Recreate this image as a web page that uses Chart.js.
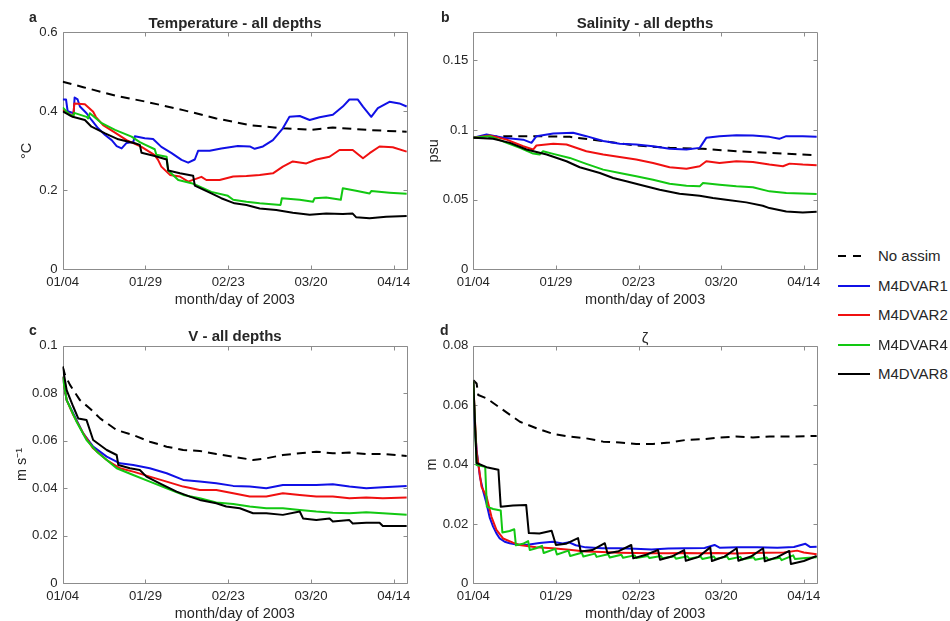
<!DOCTYPE html>
<html>
<head>
<meta charset="utf-8">
<title>Assimilation error - all depths</title>
<script src="https://cdn.jsdelivr.net/npm/chart.js@4.4.1/dist/chart.umd.min.js"></script>
<style>
  html, body { margin: 0; padding: 0; background: #fff; }
  #fig {
    position: relative; width: 950px; height: 621px; overflow: hidden;
    font-family: "Liberation Sans", Arial, Helvetica, sans-serif; color: #262626;
  }
  #fig canvas { position: absolute; }
  .ttl { position: absolute; font-size: 15px; font-weight: bold; white-space: nowrap; transform: translate(-50%, -50%); }
  .ttl.plain { font-weight: normal; }
  .tag { position: absolute; font-size: 14px; font-weight: bold; transform: translateY(-50%); }
  .leg { position: absolute; left: 838px; height: 18px; font-size: 15px; line-height: 18px; transform: translateY(-50%); white-space: nowrap; }
  .leg .swatch { position: absolute; left: 0; top: 8px; width: 32px; height: 2px; }
  .leg .swatch.dash { width: 23px; background: repeating-linear-gradient(to right, #000 0 8px, transparent 8px 15px) !important; }
  .leg .name { position: absolute; left: 40px; top: 0; }
</style>
</head>
<body>
<div id="fig">
  <canvas id="pa"></canvas>
  <canvas id="pb"></canvas>
  <canvas id="pc"></canvas>
  <canvas id="pd"></canvas>

  <div class="tag" style="left:29px; top:17px">a</div>
  <div class="tag" style="left:441px; top:17px">b</div>
  <div class="tag" style="left:29px; top:330px">c</div>
  <div class="tag" style="left:440px; top:330px">d</div>

  <div class="ttl" style="left:235px; top:22px">Temperature - all depths</div>
  <div class="ttl" style="left:645px; top:22px">Salinity - all depths</div>
  <div class="ttl" style="left:235px; top:335px">V - all depths</div>
  <div class="ttl plain" style="left:645px; top:337px">ζ</div>

  <div id="legend"></div>
</div>

<script>
// ---------- shared axis data ----------
const dayTicks = [0, 25, 50, 75, 100];
const dayLabels = ['01/04', '01/29', '02/23', '03/20', '04/14'];
const lastDay = 104;
const xTitle = 'month/day of 2003';

const seriesNames = ['No assim', 'M4DVAR1', 'M4DVAR2', 'M4DVAR4', 'M4DVAR8'];
const seriesColors = ['#000000', '#1010e6', '#f01010', '#12c812', '#000000'];

// ---------- (a) temperature, [day, value] ----------
const tempTicks = [0, 0.2, 0.4, 0.6];
const tempNoAssim = [[0,.475],[6.2,.461],[16.3,.439],[25.3,.424],[36.4,.403],[46.4,.382],[56.5,.365],[66.5,.357],[75.1,.353],[81.6,.359],[91.7,.353],[103.9,.348]];
const tempM1 = [[0,.43],[1,.43],[1.5,.40],[3.3,.395],[3.6,.435],[4.5,.43],[5.2,.412],[7.2,.395],[8.7,.378],[10.7,.357],[12.8,.34],[14.8,.327],[16.3,.312],[17.8,.306],[19.3,.32],[21.3,.322],[21.8,.337],[24.8,.332],[27.3,.33],[29.8,.31],[32.9,.294],[35.9,.277],[37.9,.27],[39.9,.278],[40.9,.30],[44.4,.30],[47.9,.306],[52.9,.312],[56.5,.311],[58,.305],[60.5,.311],[63.5,.327],[66.5,.357],[68.5,.386],[71.6,.388],[74.6,.378],[77.6,.385],[81.6,.391],[84.6,.412],[86.6,.43],[89.1,.43],[90.7,.412],[93.2,.386],[95.2,.408],[98.7,.424],[101.7,.42],[103.9,.412]];
const tempM2 = [[0,.405],[1.8,.395],[3.2,.386],[3.5,.42],[6.7,.418],[9.2,.399],[10,.386],[12.2,.365],[15.8,.346],[19.3,.327],[23.8,.31],[27.8,.289],[28.8,.277],[29.8,.26],[32.4,.239],[35.4,.235],[37.9,.222],[41.9,.234],[43.4,.226],[47.4,.226],[51.5,.235],[55.5,.236],[59.5,.239],[63.5,.243],[66.5,.26],[69.5,.273],[73.6,.268],[76.6,.278],[80.6,.285],[83.6,.302],[87.6,.302],[90.7,.281],[92.7,.294],[95.7,.311],[99.7,.309],[103.9,.298]];
const tempM4 = [[0,.41],[2.2,.39],[3.3,.39],[3.5,.396],[7.2,.386],[7.7,.382],[8.2,.395],[11.8,.37],[15.8,.353],[20.8,.336],[23.3,.322],[25,.315],[27.8,.304],[28.3,.29],[31.4,.285],[31.8,.251],[34.9,.226],[38.9,.218],[40.4,.213],[44.9,.196],[49.9,.186],[51.5,.176],[55.5,.171],[59.5,.167],[65.8,.163],[66.2,.18],[71.6,.176],[75.6,.171],[76.1,.18],[79.6,.182],[84,.176],[84.6,.205],[88.6,.199],[92.7,.192],[93.2,.198],[98.7,.194],[103.9,.191]];
const tempM8 = [[0,.40],[3,.386],[6.7,.378],[8.7,.361],[12.8,.344],[16.8,.329],[21.8,.319],[23.3,.315],[23.8,.295],[27.8,.287],[31.4,.278],[31.9,.25],[35.4,.243],[39.4,.237],[39.9,.212],[44.9,.192],[47.9,.18],[51.9,.167],[55.5,.163],[59.5,.154],[64.5,.15],[69.5,.143],[74.6,.138],[79.6,.141],[84.6,.14],[87.6,.141],[88.6,.132],[92.7,.129],[97.7,.133],[103.9,.135]];

// ---------- (b) salinity ----------
const saltTicks = [0, 0.05, 0.1, 0.15];
const saltNoAssim = [[0,.0946],[9.1,.0955],[19.1,.0955],[29.2,.095],[39.3,.092],[49.3,.0888],[59.4,.0871],[69.5,.0864],[79.6,.0847],[89.6,.0835],[103.9,.0818]];
const saltM1 = [[0,.0943],[4,.0967],[9.1,.0943],[15.1,.093],[17.6,.0907],[19.1,.0955],[24.2,.0974],[30.2,.098],[34.2,.0955],[39.3,.092],[44.3,.09],[49.3,.0895],[54.4,.0883],[59.4,.0864],[64.5,.086],[68.5,.0871],[70.5,.0943],[74.5,.0955],[79.6,.0962],[84.6,.096],[89.6,.095],[92.6,.0936],[94.7,.0955],[99.7,.0955],[103.9,.095]];
const saltM2 = [[0,.0943],[5,.096],[10.1,.093],[15.1,.0883],[18.1,.0859],[19.1,.0888],[24.2,.09],[28.2,.0895],[34.2,.0847],[39.3,.0823],[44.3,.0806],[49.3,.0787],[54.4,.0763],[59.4,.0732],[64.5,.0722],[68.5,.0739],[70.5,.0775],[74.5,.0763],[79.6,.0775],[84.6,.077],[89.6,.0751],[93.7,.0739],[95.7,.0758],[99.7,.0751],[103.9,.0746]];
const saltM4 = [[0,.0943],[5,.0955],[10.1,.0907],[14.1,.0871],[18.1,.083],[20.1,.0823],[21.1,.0847],[24.2,.0828],[29.2,.0799],[34.2,.0756],[39.3,.0715],[44.3,.0691],[49.3,.0667],[54.4,.0643],[59.4,.0614],[64.5,.06],[68.5,.0595],[69.5,.0619],[74.5,.0607],[79.6,.0595],[84.6,.0588],[89.6,.0559],[94.7,.0547],[103.9,.054]];
const saltM8 = [[0,.0943],[6,.0936],[11.1,.0907],[16.1,.0859],[22.2,.0823],[28.2,.0775],[32.2,.0732],[38.3,.0691],[42.3,.0655],[46.3,.0631],[50.4,.0607],[56.4,.0571],[62.4,.0542],[68.5,.0528],[72.5,.0511],[76.5,.0499],[82.6,.048],[87.6,.0456],[89.6,.0439],[94.7,.0415],[99.7,.0408],[103.9,.0413]];

// ---------- (c) velocity ----------
const velTicks = [0, 0.02, 0.04, 0.06, 0.08, 0.1];
const velNoAssim = [[0,.0912],[0.7,.0877],[2.2,.0835],[5.2,.0771],[8.2,.0736],[11.3,.0694],[16.3,.0645],[21.3,.0624],[26.3,.0596],[31.4,.0575],[36.4,.0561],[41.4,.0557],[46.4,.0544],[51.5,.0533],[57.5,.0519],[61.5,.0526],[66.5,.054],[71.6,.0547],[76.6,.0554],[81.6,.0547],[86.6,.055],[91.7,.0544],[96.7,.0544],[103.9,.0536]];
const velM1 = [[0,.087],[1.2,.0771],[3.2,.0715],[6.2,.0631],[9.2,.0575],[13.3,.0533],[17.3,.0505],[21.3,.0498],[26.3,.0484],[31.4,.0463],[36.4,.0435],[41.4,.0428],[46.4,.0421],[51.5,.041],[56.5,.0407],[61.5,.04],[66.5,.0414],[71.6,.0414],[76.6,.0414],[81.6,.0417],[86.6,.0407],[91.7,.04],[96.7,.0404],[103.9,.041]];
const velM2 = [[0,.087],[1.2,.0771],[3.2,.0708],[6.2,.0631],[9.2,.0568],[13.3,.0519],[17.3,.0484],[21.3,.047],[26.3,.0449],[31.4,.0428],[36.4,.0407],[41.4,.0393],[46.4,.0393],[51.5,.0379],[56.5,.0365],[61.5,.0365],[66.5,.0379],[71.6,.0372],[76.6,.0365],[81.6,.0365],[86.6,.0358],[91.7,.0361],[96.7,.0358],[103.9,.0361]];
const velM4 = [[0,.087],[1.2,.0771],[4.2,.068],[7.2,.0603],[10.3,.0554],[13.3,.0519],[16.3,.0484],[21.3,.0456],[26.3,.0428],[31.4,.04],[36.4,.0372],[41.4,.0358],[46.4,.034],[51.5,.0334],[56.5,.0323],[61.5,.0316],[66.5,.0316],[71.6,.0309],[76.6,.0302],[81.6,.0297],[86.6,.0295],[91.7,.0299],[96.7,.0295],[103.9,.0288]];
const velM8 = [[0,.0912],[1.2,.0813],[3.2,.0743],[4.7,.0694],[7.2,.0687],[9.2,.0603],[13.3,.0561],[16.3,.054],[16.8,.0498],[20.3,.0484],[23.3,.0477],[25.3,.0449],[29.3,.0421],[34.4,.0386],[38.4,.0365],[41.4,.0351],[46.4,.0337],[49.4,.0323],[53.5,.0316],[57.5,.0295],[61.5,.0295],[66.5,.0288],[71.6,.0302],[72.6,.0273],[76.6,.0266],[80.6,.0273],[81.6,.026],[86.6,.0266],[87.6,.0252],[91.7,.0255],[95.7,.0255],[96.7,.0241],[103.9,.0241]];

// ---------- (d) sea surface height ----------
const zetaTicks = [0, 0.02, 0.04, 0.06, 0.08];
const zetaNoAssim = [[0,.0684],[1,.0673],[1.5,.0634],[4,.0623],[9.1,.0583],[14.1,.0544],[19.1,.0522],[24.2,.0503],[29.2,.0494],[34.2,.0488],[39.3,.0477],[44.3,.0474],[49.3,.0469],[54.4,.0469],[59.4,.0474],[64.5,.0483],[69.5,.0485],[74.5,.0491],[79.6,.0494],[84.6,.0491],[89.6,.0494],[94.7,.0494],[103.9,.0496]];
const zetaM1 = [[0,.068],[0.5,.052],[1,.0449],[2,.0359],[3,.031],[4,.0269],[5,.022],[6,.0191],[7,.0168],[8,.0151],[9.5,.014],[11,.0135],[14,.0129],[17,.0131],[20,.0136],[24,.014],[27,.0134],[29,.0138],[31,.0128],[34,.0121],[39,.0118],[44,.0118],[49,.0116],[54,.0114],[59,.0117],[64,.0118],[70,.0119],[73,.0129],[74.5,.012],[80,.0121],[86,.0121],[92,.012],[97,.0122],[100.5,.0133],[102,.0122],[103.9,.0123]];
const zetaM2 = [[0,.068],[0.5,.055],[1,.0443],[2.5,.0325],[4,.0292],[5.5,.0224],[7,.018],[9,.0151],[12,.0137],[14,.0129],[19,.0121],[24,.0118],[29,.0113],[34,.0107],[39,.0105],[44,.0103],[49,.0102],[54,.0101],[59,.0101],[64,.0102],[69,.0101],[74,.0102],[79,.01],[84,.0102],[89,.0103],[94,.0104],[98,.011],[100,.0104],[103.9,.0098]];
const zetaM4 = [[0,.068],[1,.0398],[3.6,.0392],[4.1,.0258],[6,.025],[8.3,.0245],[8.8,.0171],[11,.0176],[12.4,.0182],[12.9,.0128],[15,.0133],[16.6,.0142],[17.1,.0112],[19,.0118],[20.8,.0126],[21.3,.0102],[24.8,.0116],[25.3,.0097],[28.8,.011],[29.3,.0092],[32.8,.0103],[33.3,.009],[36.8,.01],[37.3,.0089],[40.8,.0098],[41.3,.0087],[44.8,.0096],[45.3,.0086],[48.8,.0094],[49.3,.0085],[52.8,.0092],[53.3,.0085],[56.8,.0092],[57.3,.0084],[60.8,.0091],[61.3,.0083],[64.8,.0091],[65.3,.0083],[68.8,.009],[69.3,.0082],[72.8,.009],[73.3,.0082],[76.8,.009],[77.3,.0081],[80.8,.0089],[81.3,.008],[84.8,.0088],[85.3,.0079],[88.8,.0087],[89.3,.0079],[92.8,.0086],[93.3,.0078],[96.8,.0094],[97.3,.0082],[100.5,.0085],[103.9,.0088]];
const zetaM8 = [[0,.068],[1,.0405],[4,.0391],[7.6,.0382],[8.3,.0258],[12,.0262],[16,.0264],[16.8,.0169],[20,.0168],[23.7,.0177],[25,.0129],[28,.0133],[31.7,.0152],[32.5,.0107],[36,.0112],[39.8,.0135],[40.6,.0101],[44,.0108],[47.8,.0129],[48.4,.0084],[52,.0095],[55.9,.0112],[56.5,.0079],[60,.009],[63.8,.0112],[64.3,.0076],[68,.0088],[71.7,.0121],[72.2,.0075],[76,.009],[79.7,.0118],[80.2,.0076],[84,.009],[87.7,.0118],[88.2,.0074],[92,.0088],[95.6,.0109],[96.1,.0065],[100,.0075],[103.9,.0092]];

// ---------- frame with inward tick marks on all four sides ----------
const frameTicks = {
  id: 'frameTicks',
  beforeDatasetsDraw(chart) {
    const { ctx, chartArea: a, scales: { x, y } } = chart;
    const px = v => Math.round(v) + 0.5;
    const l = px(a.left), r = px(a.right), t = px(a.top), b = px(a.bottom);
    const len = 4;
    ctx.save();
    ctx.strokeStyle = '#8c8c8c';
    ctx.lineWidth = 1;
    ctx.beginPath();
    ctx.rect(l, t, r - l, b - t);
    x.ticks.forEach(tk => {
      const xp = px(x.getPixelForValue(tk.value));
      ctx.moveTo(xp, b); ctx.lineTo(xp, b - len);
      ctx.moveTo(xp, t); ctx.lineTo(xp, t + len);
    });
    y.ticks.forEach(tk => {
      const yp = px(y.getPixelForValue(tk.value));
      ctx.moveTo(l, yp); ctx.lineTo(l + len, yp);
      ctx.moveTo(r, yp); ctx.lineTo(r - len, yp);
    });
    ctx.stroke();
    ctx.restore();
  }
};

// ---------- panels ----------
const FONT = '"Liberation Sans", Arial, Helvetica, sans-serif';
const TEXT = '#262626';

const panels = [
  { id: 'pa', canvasLeft: 0,   plot: [62.7, 32.3, 407, 269.3],  yTitleX: 27,  yLabel: '°C',   yMax: 0.6,  yTicks: tempTicks, series: [tempNoAssim, tempM1, tempM2, tempM4, tempM8] },
  { id: 'pb', canvasLeft: 420, plot: [473.3, 32.3, 817, 269.3], yTitleX: 434, yLabel: 'psu',  yMax: 0.17, yTicks: saltTicks, series: [saltNoAssim, saltM1, saltM2, saltM4, saltM8] },
  { id: 'pc', canvasLeft: 0,   plot: [62.7, 345.7, 407, 583.3], yTitleX: 22,  yLabel: 'm s⁻¹', yMax: 0.1, yTicks: velTicks,  series: [velNoAssim, velM1, velM2, velM4, velM8] },
  { id: 'pd', canvasLeft: 420, plot: [473.3, 345.7, 817, 583.3], yTitleX: 432, yLabel: 'm',   yMax: 0.08, yTicks: zetaTicks, series: [zetaNoAssim, zetaM1, zetaM2, zetaM4, zetaM8] }
];

function buildPanel(p) {
  const [L, T, R, B] = p.plot;
  const titleHalf = 14.5 * 1.2 / 2;
  const cl = p.canvasLeft;
  const ct = Math.floor(T - 32);
  const cw = Math.ceil(R + 13 - cl);
  const ch = Math.ceil(B + 30.7 + titleHalf - ct);
  const yBoxLeft = p.yTitleX - titleHalf;

  const canvas = document.getElementById(p.id);
  canvas.width = cw; canvas.height = ch;
  canvas.style.left = cl + 'px'; canvas.style.top = ct + 'px';
  canvas.style.width = cw + 'px'; canvas.style.height = ch + 'px';

  const datasets = p.series.map((pts, i) => ({
    label: seriesNames[i],
    data: pts.map(([x, y]) => ({ x, y })),
    borderColor: seriesColors[i],
    borderWidth: 2,
    borderDash: i === 0 ? [9, 6] : [],
    borderJoinStyle: 'round',
    pointRadius: 0,
    tension: 0,
    fill: false,
    order: seriesNames.length - 1 - i
  }));

  return new Chart(canvas, {
    type: 'line',
    data: { datasets },
    options: {
      responsive: false,
      animation: false,
      events: [],
      parsing: false,
      layout: { padding: { left: yBoxLeft - cl, right: cw - (R - cl), top: T - ct, bottom: 0 } },
      plugins: { legend: { display: false }, tooltip: { enabled: false } },
      scales: {
        x: {
          type: 'linear', min: 0, max: lastDay,
          afterBuildTicks: ax => { ax.ticks = dayTicks.map(v => ({ value: v })); },
          afterFit: ax => { ax.height = ch - (B - ct); },
          grid: { display: false, drawTicks: false },
          border: { display: false },
          ticks: {
            color: TEXT, padding: 5, maxRotation: 0, autoSkip: false,
            font: { family: FONT, size: 13.2 },
            callback: v => dayLabels[dayTicks.indexOf(v)]
          },
          title: { display: true, text: xTitle, color: TEXT, padding: 0, font: { family: FONT, size: 14.5 } }
        },
        y: {
          type: 'linear', min: 0, max: p.yMax,
          afterBuildTicks: ax => { ax.ticks = p.yTicks.map(v => ({ value: v })); },
          afterFit: ax => { ax.width = L - yBoxLeft; },
          grid: { display: false, drawTicks: false },
          border: { display: false },
          ticks: {
            color: TEXT, padding: 5, autoSkip: false,
            font: { family: FONT, size: 13.2 },
            callback: v => String(v)
          },
          title: { display: true, text: p.yLabel, color: TEXT, padding: 0, font: { family: FONT, size: 14.5 } }
        }
      }
    },
    plugins: [frameTicks]
  });
}

panels.forEach(buildPanel);

// ---------- shared legend ----------
const legendRows = [256, 286, 315, 345, 374];
const legend = document.getElementById('legend');
seriesNames.forEach((name, i) => {
  const row = document.createElement('div');
  row.className = 'leg';
  row.style.top = legendRows[i] + 'px';
  row.innerHTML = `<span class="swatch${i === 0 ? ' dash' : ''}" style="background:${seriesColors[i]}"></span><span class="name">${name}</span>`;
  legend.appendChild(row);
});
</script>
</body>
</html>
